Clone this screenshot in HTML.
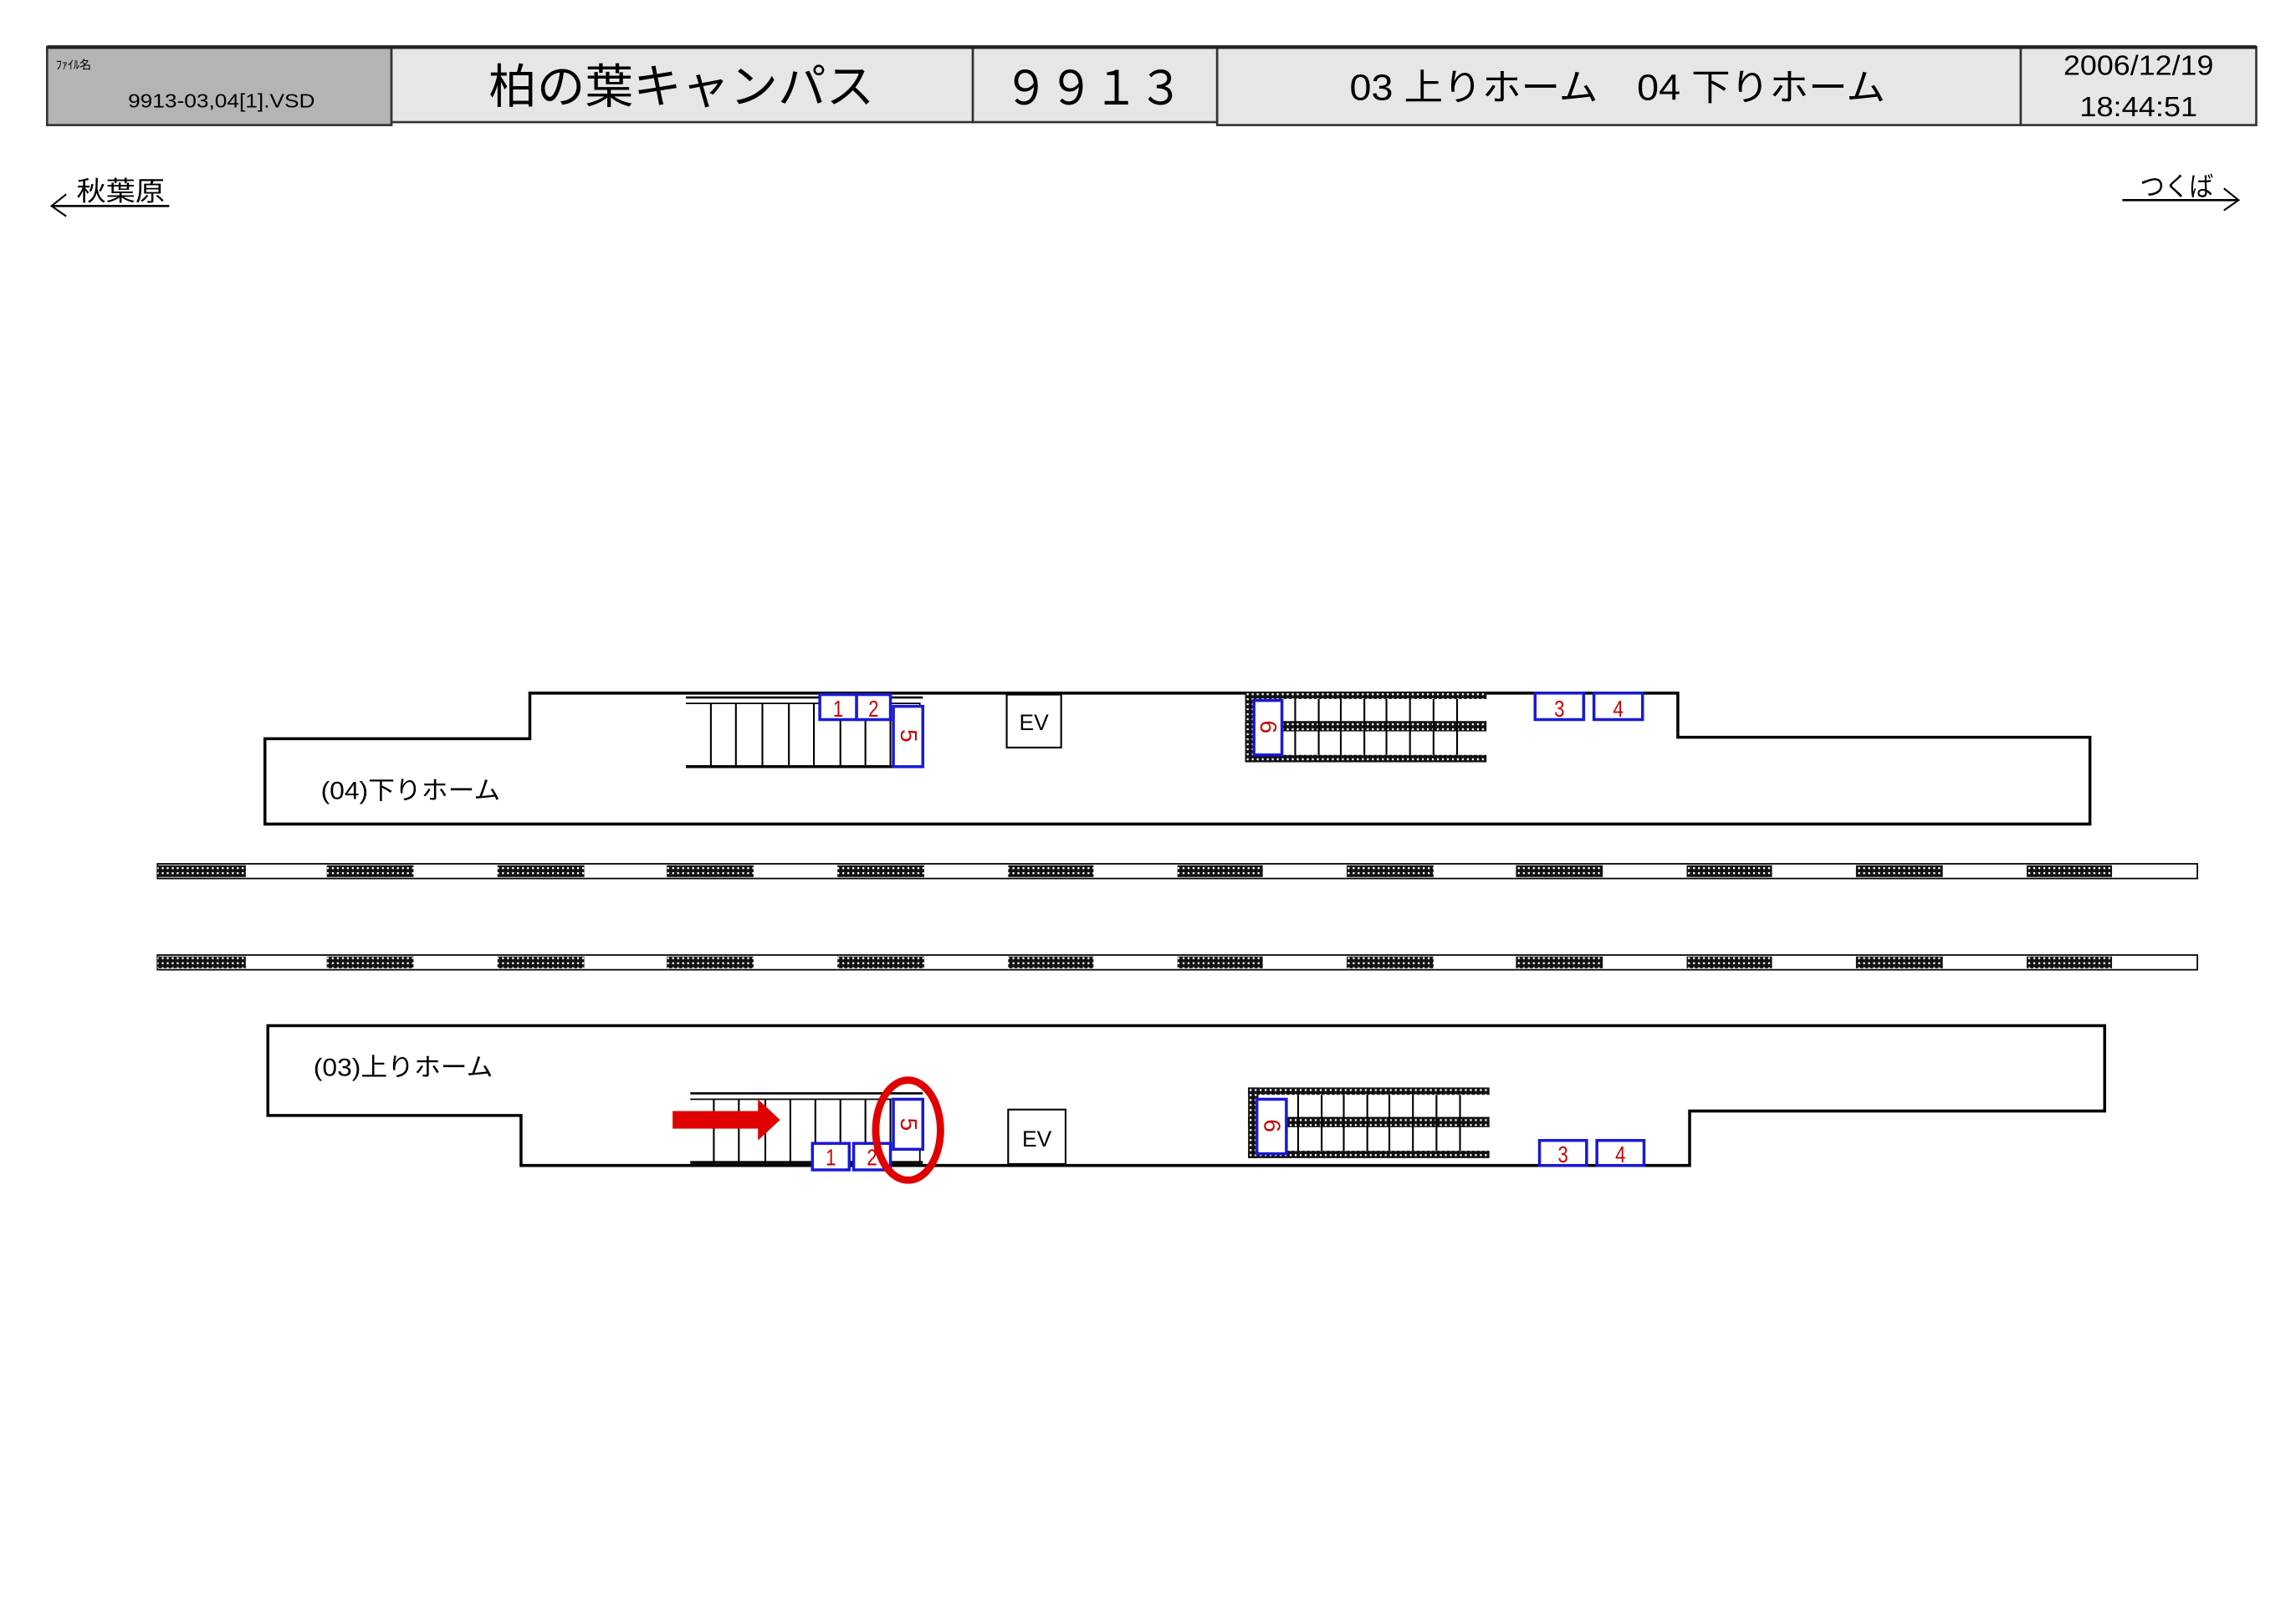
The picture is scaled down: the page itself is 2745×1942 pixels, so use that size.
<!DOCTYPE html>
<html><head><meta charset="utf-8"><style>
html,body{margin:0;padding:0;background:#fff;}
svg{display:block;}
text{font-family:"Liberation Sans","Noto Sans CJK JP",sans-serif;}
.n{font-size:16px;fill:#c00;text-anchor:middle;}
</style></head><body>
<svg width="2745" height="1942" viewBox="0 0 1560 1103.6" preserveAspectRatio="none" xmlns="http://www.w3.org/2000/svg">
<defs>
<pattern id="h" width="3.4" height="3.4" patternUnits="userSpaceOnUse">
<rect width="3.4" height="3.4" fill="#111"/><rect x="1.1" y="1.1" width="1.3" height="1.3" fill="#fff"/>
</pattern>
<g id="esc">
<rect x="0" y="0" width="164" height="5" fill="url(#h)"/>
<rect x="0" y="20" width="164" height="7" fill="url(#h)"/>
<rect x="0" y="43" width="164" height="5" fill="url(#h)"/>
<rect x="0" y="0" width="7" height="48" fill="url(#h)"/>
<g stroke="#000" stroke-width="1.2">
<line x1="34" y1="5" x2="34" y2="43"/><line x1="50" y1="5" x2="50" y2="43"/><line x1="65" y1="5" x2="65" y2="43"/><line x1="81" y1="5" x2="81" y2="43"/><line x1="96" y1="5" x2="96" y2="43"/><line x1="112" y1="5" x2="112" y2="43"/><line x1="128" y1="5" x2="128" y2="43"/><line x1="144" y1="5" x2="144" y2="43"/>
</g>
</g>
</defs>
<rect width="1560" height="1103.6" fill="#fff"/>

<rect x="32" y="32" width="234" height="53" fill="#b4b4b4" stroke="#333" stroke-width="1.5"/>
<rect x="266" y="32" width="395" height="51" fill="#e6e6e6" stroke="#333" stroke-width="1.5"/>
<rect x="661" y="32" width="166" height="51" fill="#e6e6e6" stroke="#333" stroke-width="1.5"/>
<rect x="827" y="32" width="546" height="53" fill="#e6e6e6" stroke="#333" stroke-width="1.5"/>
<rect x="1373" y="32" width="160" height="53" fill="#e6e6e6" stroke="#333" stroke-width="1.5"/>
<line x1="32" y1="32" x2="1533" y2="32" stroke="#222" stroke-width="2.5"/>
<text x="38" y="47" font-size="8">ﾌｧｲﾙ名</text>
<text x="87" y="73" font-size="13" textLength="127" lengthAdjust="spacingAndGlyphs">9913-03,04[1].VSD</text>
<text x="463" y="70" font-size="32" text-anchor="middle" textLength="262" lengthAdjust="spacingAndGlyphs">柏の葉キャンパス</text>
<text x="743" y="71" font-size="32" text-anchor="middle" textLength="122" lengthAdjust="spacingAndGlyphs">９９１３</text>
<text x="1099" y="68" font-size="25" text-anchor="middle" textLength="364" lengthAdjust="spacingAndGlyphs">03 上りホーム　04 下りホーム</text>
<text x="1453" y="51" font-size="19" text-anchor="middle" textLength="102" lengthAdjust="spacingAndGlyphs">2006/12/19</text>
<text x="1453" y="79" font-size="19" text-anchor="middle" textLength="80" lengthAdjust="spacingAndGlyphs">18:44:51</text>

<text x="52" y="136" font-size="18" textLength="60" lengthAdjust="spacingAndGlyphs">秋葉原</text>
<polyline points="45,132 35,140 45,147" fill="none" stroke="#000" stroke-width="1.2"/>
<line x1="35" y1="140" x2="115" y2="140" stroke="#000" stroke-width="1.5"/>
<text x="1454" y="133" font-size="18" textLength="50" lengthAdjust="spacingAndGlyphs">つくば</text>
<line x1="1442" y1="136" x2="1521" y2="136" stroke="#000" stroke-width="1.5"/>
<polyline points="1511,128 1521,136 1511,143" fill="none" stroke="#000" stroke-width="1.2"/>

<polygon points="180,502 360,502 360,471 1140,471 1140,501 1420,501 1420,560 180,560" fill="#fff" stroke="#000" stroke-width="2"/>
<text x="218" y="543" font-size="17" textLength="122" lengthAdjust="spacingAndGlyphs">(04)下りホーム</text>
<line x1="466" y1="474" x2="627" y2="474" stroke="#000" stroke-width="1.5"/>
<polyline points="466,478 625,478 625,521" fill="none" stroke="#000" stroke-width="1"/>
<line x1="466" y1="521" x2="627" y2="521" stroke="#000" stroke-width="2"/>
<g stroke="#000" stroke-width="1.2">
<line x1="483" y1="478" x2="483" y2="521"/><line x1="500" y1="478" x2="500" y2="521"/><line x1="518" y1="478" x2="518" y2="521"/><line x1="536" y1="478" x2="536" y2="521"/><line x1="553" y1="478" x2="553" y2="521"/><line x1="571" y1="478" x2="571" y2="521"/><line x1="588" y1="478" x2="588" y2="521"/><line x1="605" y1="478" x2="605" y2="521"/>
</g>
<rect x="557" y="472" width="25" height="17" fill="#fff" stroke="#1a1ad6" stroke-width="2"/>
<rect x="582" y="472" width="23" height="17" fill="#fff" stroke="#1a1ad6" stroke-width="2"/>
<rect x="607" y="480" width="20" height="41" fill="#fff" stroke="#1a1ad6" stroke-width="2"/>
<text x="569.5" y="487" class="n" textLength="7" lengthAdjust="spacingAndGlyphs">1</text>
<text x="593.5" y="487" class="n" textLength="7" lengthAdjust="spacingAndGlyphs">2</text>
<text x="617" y="500" class="n" transform="rotate(90 617 500)" dy="5">5</text>
<rect x="684" y="472" width="37" height="36" fill="#fff" stroke="#000" stroke-width="1.2"/>
<text x="702.5" y="496" font-size="15" text-anchor="middle">EV</text>
<use href="#esc" x="846" y="470"/>
<rect x="852" y="476" width="19" height="37" fill="#fff" stroke="#1a1ad6" stroke-width="2"/>
<text x="861.5" y="494" class="n" transform="rotate(90 861.5 494)" dy="5">6</text>
<rect x="1043" y="471" width="33" height="18" fill="#fff" stroke="#1a1ad6" stroke-width="2"/>
<rect x="1083" y="471" width="33" height="18" fill="#fff" stroke="#1a1ad6" stroke-width="2"/>
<text x="1059.5" y="487" class="n" textLength="7" lengthAdjust="spacingAndGlyphs">3</text>
<text x="1099.5" y="487" class="n" textLength="7" lengthAdjust="spacingAndGlyphs">4</text>

<g stroke="#000" stroke-width="1">
<rect x="107" y="587" width="1386" height="10" fill="#fff"/>
<rect x="107" y="649" width="1386" height="10" fill="#fff"/>
</g>
<g fill="url(#h)">
<rect x="107" y="588" width="60" height="8"/><rect x="222" y="588" width="59" height="8"/><rect x="338" y="588" width="59" height="8"/><rect x="453" y="588" width="59" height="8"/><rect x="569" y="588" width="59" height="8"/><rect x="685" y="588" width="58" height="8"/><rect x="800" y="588" width="58" height="8"/><rect x="915" y="588" width="59" height="8"/><rect x="1030" y="588" width="59" height="8"/><rect x="1146" y="588" width="58" height="8"/><rect x="1261" y="588" width="59" height="8"/><rect x="1377" y="588" width="58" height="8"/>
<rect x="107" y="650" width="60" height="8"/><rect x="222" y="650" width="59" height="8"/><rect x="338" y="650" width="59" height="8"/><rect x="453" y="650" width="59" height="8"/><rect x="569" y="650" width="59" height="8"/><rect x="685" y="650" width="58" height="8"/><rect x="800" y="650" width="58" height="8"/><rect x="915" y="650" width="59" height="8"/><rect x="1030" y="650" width="59" height="8"/><rect x="1146" y="650" width="58" height="8"/><rect x="1261" y="650" width="59" height="8"/><rect x="1377" y="650" width="58" height="8"/>
</g>

<polygon points="182,697 1430,697 1430,755 1148,755 1148,792 354,792 354,758 182,758" fill="#fff" stroke="#000" stroke-width="2"/>
<text x="213" y="731" font-size="17" textLength="122" lengthAdjust="spacingAndGlyphs">(03)上りホーム</text>
<line x1="469" y1="743" x2="627" y2="743" stroke="#000" stroke-width="1.5"/>
<polyline points="469,747 625,747 625,790" fill="none" stroke="#000" stroke-width="1"/>
<line x1="469" y1="790" x2="627" y2="790" stroke="#000" stroke-width="2"/>
<g stroke="#000" stroke-width="1.2">
<line x1="485" y1="747" x2="485" y2="790"/><line x1="502" y1="747" x2="502" y2="790"/><line x1="520" y1="747" x2="520" y2="790"/><line x1="537" y1="747" x2="537" y2="790"/><line x1="554" y1="747" x2="554" y2="790"/><line x1="571" y1="747" x2="571" y2="790"/><line x1="588" y1="747" x2="588" y2="790"/><line x1="605" y1="747" x2="605" y2="790"/>
</g>
<rect x="552" y="777" width="25" height="18" fill="#fff" stroke="#1a1ad6" stroke-width="2"/>
<rect x="580" y="777" width="25" height="18" fill="#fff" stroke="#1a1ad6" stroke-width="2"/>
<rect x="607" y="747" width="20" height="34" fill="#fff" stroke="#1a1ad6" stroke-width="2"/>
<text x="564.5" y="792" class="n" textLength="7" lengthAdjust="spacingAndGlyphs">1</text>
<text x="592.5" y="792" class="n" textLength="7" lengthAdjust="spacingAndGlyphs">2</text>
<text x="617" y="764" class="n" transform="rotate(90 617 764)" dy="5">5</text>
<ellipse cx="617" cy="768" rx="22" ry="34" fill="none" stroke="#e00000" stroke-width="5"/>
<polygon points="457,755 515,755 515,747 530,761 515,775 515,767 457,767" fill="#e00000"/>
<rect x="685" y="754" width="39" height="37" fill="#fff" stroke="#000" stroke-width="1.2"/>
<text x="704.5" y="779" font-size="15" text-anchor="middle">EV</text>
<use href="#esc" x="848" y="739"/>
<rect x="854" y="747" width="20" height="37" fill="#fff" stroke="#1a1ad6" stroke-width="2"/>
<text x="864" y="765" class="n" transform="rotate(90 864 765)" dy="5">6</text>
<rect x="1046" y="775" width="32" height="17" fill="#fff" stroke="#1a1ad6" stroke-width="2"/>
<rect x="1085" y="775" width="32" height="17" fill="#fff" stroke="#1a1ad6" stroke-width="2"/>
<text x="1062" y="790" class="n" textLength="7" lengthAdjust="spacingAndGlyphs">3</text>
<text x="1101" y="790" class="n" textLength="7" lengthAdjust="spacingAndGlyphs">4</text>
</svg>
</body></html>
